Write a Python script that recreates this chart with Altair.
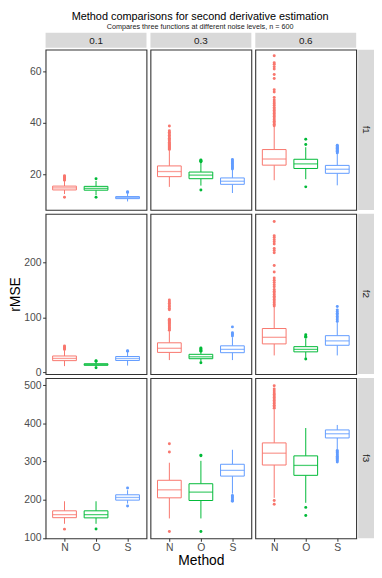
import altair as alt
import pandas as pd

FONT = "Liberation Sans"
FUNCS = ["f1", "f2", "f3"]
NOISE = ["0.1", "0.3", "0.6"]
METHODS = ["N", "O", "S"]
COLORS = ["#F8766D", "#00BA38", "#619CFF"]

# per function -> per noise level -> values for N, O, S
LOWER = {
    "f1": [[12.2, 11.8, 9.3], [15.0, 15.5, 12.6], [17.6, 18.0, 15.6]],
    "f2": [[11.5, 10.5, 12.5], [22.5, 19.5, 22.5], [31, 26.5, 31]],
    "f3": [[137, 137, 190], [151, 151, 216], [205, 192, 333]],
}
Q1 = {
    "f1": [[13.8, 13.7, 10.4], [19.0, 18.2, 16.0], [23.5, 22.2, 20.3]],
    "f2": [[21.5, 13.0, 21.8], [36.5, 25.0, 36.0], [52, 37.5, 49.5]],
    "f3": [[153, 152.5, 199], [205, 198, 262], [291, 264, 362]],
}
MEDIAN = {
    "f1": [[14.6, 14.4, 10.8], [21.0, 19.6, 17.2], [25.9, 24.0, 21.9]],
    "f2": [[25.5, 14.5, 25.4], [44.0, 28.5, 42.0], [64, 42, 57.5]],
    "f3": [[161, 161, 206], [226, 220, 277], [322, 290, 373]],
}
Q3 = {
    "f1": [[15.3, 15.2, 11.2], [23.2, 20.8, 18.5], [29.6, 25.8, 23.4]],
    "f2": [[30.0, 15.8, 29.0], [54.0, 33.0, 48.5], [80, 47, 67]],
    "f3": [[171, 171, 213], [251, 242, 293], [349, 315, 383]],
}
UPPER = {
    "f1": [[17.3, 17.3, 12.3], [29.2, 24.5, 21.6], [38.5, 30.5, 28.0]],
    "f2": [[40.5, 19.0, 37.5], [75.0, 37.0, 64.0], [120, 61, 90]],
    "f3": [[196, 196, 225], [297, 302, 331], [436, 388, 396]],
}
OUTLIERS = {
    ("f1", "0.1", "N"): [10.9, 17.6, 17.9, 18.2, 18.5, 18.8, 19.1, 19.4],
    ("f1", "0.1", "O"): [10.9, 18.2],
    ("f1", "0.1", "S"): [12.8, 13.1],
    ("f1", "0.3", "N"): [29.6, 30.0, 30.4, 30.8, 31.2, 31.6, 32.0, 32.5, 33.0, 33.5,
                         34.0, 34.6, 35.2, 35.8, 36.4, 37.0, 38.8],
    ("f1", "0.3", "O"): [13.8, 24.8, 25.0, 25.3, 25.5],
    ("f1", "0.3", "S"): [22.0, 22.4, 22.8, 23.2, 23.6, 24.0, 24.4, 24.8, 25.2, 25.7],
    ("f1", "0.6", "N"): [38.9, 39.5, 40.1, 40.7, 41.3, 41.9, 42.5, 43.1, 43.7, 44.3,
                         44.9, 45.5, 46.1, 46.8, 47.5, 48.2, 49.0, 50.0, 52.1, 53.0,
                         57.4, 59.0, 61.1, 62.0, 63.0, 63.6, 66.3],
    ("f1", "0.6", "O"): [15.0, 31.6, 33.6],
    ("f1", "0.6", "S"): [28.3, 28.6, 28.9, 29.2, 29.5, 29.8, 30.1, 30.4, 30.7, 31.0, 31.3],
    ("f2", "0.1", "N"): [42, 43.5, 45, 46.5, 48],
    ("f2", "0.1", "O"): [8.6, 20.5, 21.5],
    ("f2", "0.1", "S"): [38.5, 39.5],
    ("f2", "0.3", "N"): [77, 79, 81, 83, 85, 87, 89, 91, 93, 95, 97, 114, 117, 120,
                         123, 126, 129, 132],
    ("f2", "0.3", "O"): [17.5, 38.5, 40, 41.5, 43, 44.5],
    ("f2", "0.3", "S"): [66.5, 68.5, 70.5, 72.5, 83],
    ("f2", "0.6", "N"): [121, 124, 127, 130, 133, 136, 139, 142, 145, 148, 151, 156,
                         160, 164, 168, 172, 183, 195, 218, 222, 226, 234, 238, 242,
                         246, 249, 275],
    ("f2", "0.6", "O"): [24.5, 64, 66, 68.5],
    ("f2", "0.6", "S"): [93, 96, 99, 102, 105, 108, 111, 114, 120],
    ("f3", "0.1", "N"): [123],
    ("f3", "0.1", "O"): [123.5],
    ("f3", "0.1", "S"): [183.5, 231],
    ("f3", "0.3", "N"): [117, 325, 347],
    ("f3", "0.3", "O"): [117, 315, 317],
    ("f3", "0.3", "S"): [196, 199, 202, 205, 208, 211],
    ("f3", "0.6", "N"): [188, 198, 440, 444, 448, 452, 456, 460, 464, 468, 472, 476,
                         480, 485, 490, 499],
    ("f3", "0.6", "O"): [159, 180],
    ("f3", "0.6", "S"): [299, 302, 305, 308, 311, 314, 317, 320, 323, 326, 329],
}
Y_DOMAIN = {"f1": [6.0, 68.7], "f2": [-3, 289], "f3": [99, 519]}
Y_TICKS = {"f1": [20, 40, 60], "f2": [0, 100, 200], "f3": [100, 200, 300, 400, 500]}

TITLE = "Method comparisons for second derivative estimation"
SUBTITLE = "Compares three functions at different noise levels, n = 600"

PW, PH = 102, 162     # panel size
SH, RW = 13, 14       # strip cell sizes
BOXW = 24

box_rows, out_rows = [], []
for f in FUNCS:
    for ni, n in enumerate(NOISE):
        for mi, m in enumerate(METHODS):
            box_rows.append(dict(func=f, noise=n, method=m,
                                 lower=LOWER[f][ni][mi], q1=Q1[f][ni][mi],
                                 median=MEDIAN[f][ni][mi], q3=Q3[f][ni][mi],
                                 upper=UPPER[f][ni][mi]))
            for v in OUTLIERS[(f, n, m)]:
                out_rows.append(dict(func=f, noise=n, method=m, value=v))
boxes = pd.DataFrame(box_rows)
outs = pd.DataFrame(out_rows)

color = alt.Color("method:N", scale=alt.Scale(domain=METHODS, range=COLORS), legend=None)


def panel(f, n, ci, ri):
    bdf = boxes[(boxes.func == f) & (boxes.noise == n)]
    odf = outs[(outs.func == f) & (outs.noise == n)]
    xscale = alt.Scale(type="point", padding=0.6, domain=METHODS)
    if ri == 2:
        xaxis = alt.Axis(labelAngle=0, tickSize=3, tickColor="#333333", domain=False,
                         labelColor="#4D4D4D", labelFontSize=10.5, labelFont=FONT,
                         labelPadding=1.5, titleFont=FONT, titleFontSize=14,
                         titleFontWeight="normal", titleColor="#000000", titlePadding=1)
        x = alt.X("method:N", scale=xscale, axis=xaxis, title="Method" if ci == 1 else None)
    else:
        x = alt.X("method:N", scale=xscale, axis=None)
    yscale = alt.Scale(domain=Y_DOMAIN[f], nice=False, zero=False)
    ytitle = "rMSE" if (ci == 0 and ri == 1) else None
    if ci == 0:
        yaxis = alt.Axis(values=Y_TICKS[f], tickSize=3, tickColor="#333333", domain=False,
                         grid=False, labelColor="#4D4D4D", labelFontSize=10.5,
                         labelFont=FONT, labelPadding=1.5, titleFont=FONT,
                         titleFontSize=14, titleFontWeight="normal",
                         titleColor="#000000", titlePadding=1)
    else:
        yaxis = None

    def Y(field):
        if yaxis is None:
            return alt.Y(field, type="quantitative", scale=yscale, axis=None)
        return alt.Y(field, type="quantitative", scale=yscale, axis=yaxis, title=ytitle)

    pts = alt.Chart(odf).mark_circle(size=9, opacity=1).encode(x=x, y=Y("value"), color=color)
    wlo = alt.Chart(bdf).mark_rule(strokeWidth=1).encode(x=x, y=Y("lower"), y2="q1", color=color)
    whi = alt.Chart(bdf).mark_rule(strokeWidth=1).encode(x=x, y=Y("q3"), y2="upper", color=color)
    box = alt.Chart(bdf).mark_bar(size=BOXW, fill="white", strokeWidth=1).encode(
        x=x, y=Y("q1"), y2="q3", stroke=color)
    med = alt.Chart(bdf).mark_tick(size=BOXW, thickness=1.3).encode(x=x, y=Y("median"), color=color)
    return alt.layer(pts, wlo, whi, box, med).properties(width=PW, height=PH)


def top_strip(label):
    d = pd.DataFrame({"label": [label]})
    rect = alt.Chart(d).mark_rect(color="#D9D9D9").encode(
        x=alt.value(0), x2=alt.value(PW), y=alt.value(0), y2=alt.value(SH + 2))
    txt = alt.Chart(d).mark_text(font=FONT, fontSize=10, color="#1A1A1A",
                                 baseline="middle", align="center").encode(
        text="label:N", x=alt.value(PW / 2), y=alt.value((SH + 2) / 2 + 0.5))
    return alt.layer(rect, txt).properties(width=PW, height=SH,
                                           view=alt.ViewBackground(strokeOpacity=0))


def right_strip(label):
    d = pd.DataFrame({"label": [label]})
    rect = alt.Chart(d).mark_rect(color="#D9D9D9").encode(
        x=alt.value(-2), x2=alt.value(RW), y=alt.value(0), y2=alt.value(PH))
    txt = alt.Chart(d).mark_text(font=FONT, fontSize=10, color="#1A1A1A", angle=90,
                                 baseline="middle", align="center").encode(
        text="label:N", x=alt.value((RW - 2) / 2), y=alt.value(PH / 2))
    return alt.layer(rect, txt).properties(width=RW, height=PH,
                                           view=alt.ViewBackground(strokeOpacity=0))


empty = alt.Chart(pd.DataFrame({"label": [""]})).mark_rect(opacity=0).encode(
    x=alt.value(0), x2=alt.value(RW), y=alt.value(0), y2=alt.value(SH)).properties(
    width=RW, height=SH, view=alt.ViewBackground(strokeOpacity=0))

cells = [top_strip(n) for n in NOISE] + [empty]
for ri, f in enumerate(FUNCS):
    for ci, n in enumerate(NOISE):
        cells.append(panel(f, n, ci, ri))
    cells.append(right_strip(f))

chart = alt.concat(*cells, columns=4, spacing=4, align="each", bounds="flush").properties(
    title=alt.TitleParams(text=TITLE, subtitle=SUBTITLE, anchor="middle", font=FONT,
                          fontSize=11, fontWeight="normal", color="#000000",
                          subtitleFont=FONT, subtitleFontSize=7.3, subtitleColor="#1A1A1A",
                          subtitlePadding=1, offset=2.5, dx=9),
    padding=0,
).configure_view(stroke="#333333", strokeWidth=1.1)

chart.save("out.html", embed_options={"renderer": "svg", "actions": False})
